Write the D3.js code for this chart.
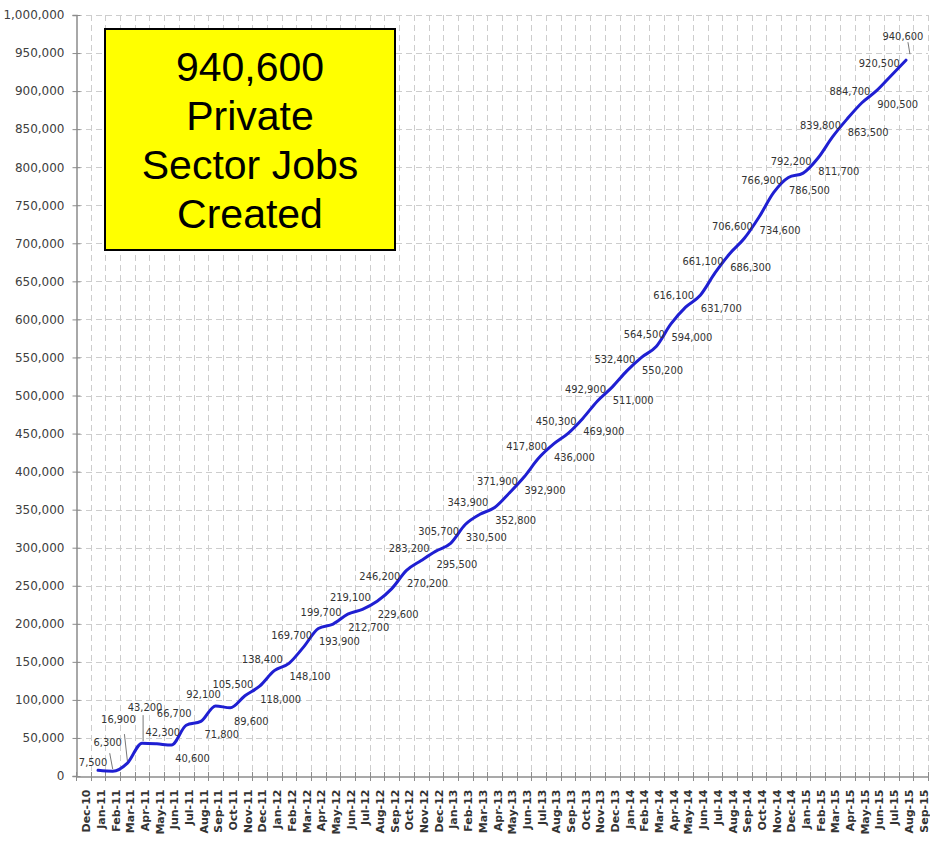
<!DOCTYPE html>
<html>
<head>
<meta charset="utf-8">
<script src="https://cdn.jsdelivr.net/npm/d3@7"></script>
<style>
  html, body { margin: 0; padding: 0; background: #ffffff; }
  svg { display: block; }
</style>
</head>
<body>
<svg id="chart" width="930" height="841"></svg>
<script>
// ---------- data ----------
const categories = [
  "Dec-10",
  "Jan-11","Feb-11","Mar-11","Apr-11","May-11","Jun-11","Jul-11","Aug-11","Sep-11","Oct-11","Nov-11","Dec-11",
  "Jan-12","Feb-12","Mar-12","Apr-12","May-12","Jun-12","Jul-12","Aug-12","Sep-12","Oct-12","Nov-12","Dec-12",
  "Jan-13","Feb-13","Mar-13","Apr-13","May-13","Jun-13","Jul-13","Aug-13","Sep-13","Oct-13","Nov-13","Dec-13",
  "Jan-14","Feb-14","Mar-14","Apr-14","May-14","Jun-14","Jul-14","Aug-14","Sep-14","Oct-14","Nov-14","Dec-14",
  "Jan-15","Feb-15","Mar-15","Apr-15","May-15","Jun-15","Jul-15","Aug-15","Sep-15"
];
// months that carry a value (Jan-11 .. Aug-15)
const dataMonths = categories.slice(1, 57);
const jobs = [
  7500, 6300, 16900, 43200, 42300, 40600, 66700, 71800, 92100, 89600, 105500, 118000,
  138400, 148100, 169700, 193900, 199700, 212700, 219100, 229600, 246200, 270200, 283200, 295500,
  305700, 330500, 343900, 352800, 371900, 392900, 417800, 436000, 450300, 469900, 492900, 511000,
  532400, 550200, 564500, 594000, 616100, 631700, 661100, 686300, 706600, 734600, 766900, 786500,
  792200, 811700, 839800, 863500, 884700, 900500, 920500, 940600
];
const yTicks = [0,50000,100000,150000,200000,250000,300000,350000,400000,450000,500000,
  550000,600000,650000,700000,750000,800000,850000,900000,950000,1000000];
const boxLines = ["940,600", "Private", "Sector Jobs", "Created"];

// ---------- layout ----------
const svg = d3.select("#chart");
const pLeft = 76, pRight = 928, pTop = 15, pBottom = 776;
const x = d3.scaleBand().domain(categories).range([pLeft, pRight]).paddingInner(0).paddingOuter(0);
const y = d3.scaleLinear().domain([0, 1000000]).range([pBottom, pTop]);
const bw = x.bandwidth();
const fmt = d3.format(",");

// grid
const grid = svg.append("g").attr("stroke", "#cdcdcd").attr("stroke-width", 1)
  .attr("stroke-dasharray", "6,4").attr("fill", "none");
yTicks.filter(d => d > 0).forEach(t => {
  grid.append("line").attr("x1", pLeft).attr("x2", pRight)
    .attr("y1", Math.round(y(t)) + 0.5).attr("y2", Math.round(y(t)) + 0.5);
});
categories.forEach((c, i) => {
  const xx = Math.round(x(c) + bw) + 0.5;
  grid.append("line").attr("x1", xx).attr("x2", xx).attr("y1", pTop).attr("y2", pBottom);
});

// y axis
const yAxis = d3.axisLeft(y).tickValues(yTicks).tickFormat(fmt).tickSize(4).tickPadding(8);
const gy = svg.append("g").attr("transform", `translate(${pLeft + 0.5},0)`).call(yAxis);
gy.select(".domain").attr("stroke", "#8c8c8c").attr("stroke-width", 1.5);
gy.selectAll(".tick line").attr("stroke", "#8c8c8c").attr("x2", 4).attr("x1", -4);
gy.selectAll(".tick text").attr("font-family", "'DejaVu Sans', sans-serif")
  .attr("font-size", 12).attr("fill", "#404040");

// x axis
const xAxis = d3.axisBottom(x).tickSize(0).tickPadding(0);
const gx = svg.append("g").attr("transform", `translate(0,${pBottom + 0.5})`).call(xAxis);
gx.select(".domain").attr("stroke", "#8c8c8c").attr("stroke-width", 1.5);
gx.selectAll(".tick text")
  .attr("font-family", "'DejaVu Sans', sans-serif").attr("font-weight", "bold")
  .attr("font-size", 11).attr("fill", "#333")
  .attr("text-anchor", "end")
  .attr("transform", "translate(3,13) rotate(-90)")
  .attr("x", 0).attr("y", 0).attr("dy", "0.35em");
// boundary tick marks
const tk = svg.append("g").attr("stroke", "#8c8c8c").attr("stroke-width", 1);
[pLeft].concat(categories.map(c => x(c) + bw)).forEach(xx => {
  const px = Math.round(xx) + 0.5;
  tk.append("line").attr("x1", px).attr("x2", px).attr("y1", pBottom - 4).attr("y2", pBottom + 5);
});

// line
const pts = jobs.map((v, i) => ({ m: dataMonths[i], v, i, px: x(dataMonths[i]) + bw / 2, py: y(v) }));
svg.append("path").datum(pts)
  .attr("fill", "none").attr("stroke", "#1f1fd2").attr("stroke-width", 3)
  .attr("stroke-linejoin", "round").attr("stroke-linecap", "round")
  .attr("d", d3.line().x(d => d.px).y(d => d.py).curve(d3.curveMonotoneX));

// data labels
const special = {
  0: { dx: -5, dy: -8 },
  1: { dx: -5, dy: -29 },
  2: { dx: -9, dy: -44 },
  3: { dx: 3, dy: -36 },
  4: { dx: 6, dy: -12 },
  55: { dx: -3, dy: -24 }
};
function place(i) {
  if (special[i]) return special[i];
  return (i % 2 === 0) ? { dx: -12, dy: -12 } : { dx: 21, dy: 13 };
}
const lbl = svg.append("g").attr("font-family", "'DejaVu Sans Condensed', 'DejaVu Sans', sans-serif")
  .attr("font-size", 11).attr("fill", "#333").attr("text-anchor", "middle");
pts.forEach(p => {
  const o = place(p.i);
  lbl.append("text").attr("x", p.px + o.dx).attr("y", p.py + o.dy).attr("dy", "0.35em").text(fmt(p.v));
});
// leader lines
const leaders = svg.append("g").attr("stroke", "#555").attr("stroke-width", 0.8).attr("fill", "none");
function leader(i, fx, fy, tx, ty) {
  const p = pts[i];
  leaders.append("line").attr("x1", p.px + fx).attr("y1", p.py + fy).attr("x2", p.px + tx).attr("y2", p.py + ty);
}
leader(1, -3, -18, 0, -2);
leader(2, -3, -29, 0, -2);
leader(3, 1, -28, 1, -2);
leader(55, 2, -18, 4, -6);

// yellow box
const box = svg.append("g");
box.append("rect").attr("x", 105).attr("y", 29).attr("width", 290).attr("height", 221)
  .attr("fill", "#ffff00").attr("stroke", "#000").attr("stroke-width", 2);
boxLines.forEach((t, i) => {
  box.append("text").attr("x", 250).attr("y", 81 + i * 49)
    .attr("text-anchor", "middle").attr("font-family", "'Liberation Sans', Arial, sans-serif")
    .attr("font-size", 41).attr("fill", "#000").text(t);
});
</script>
</body>
</html>
